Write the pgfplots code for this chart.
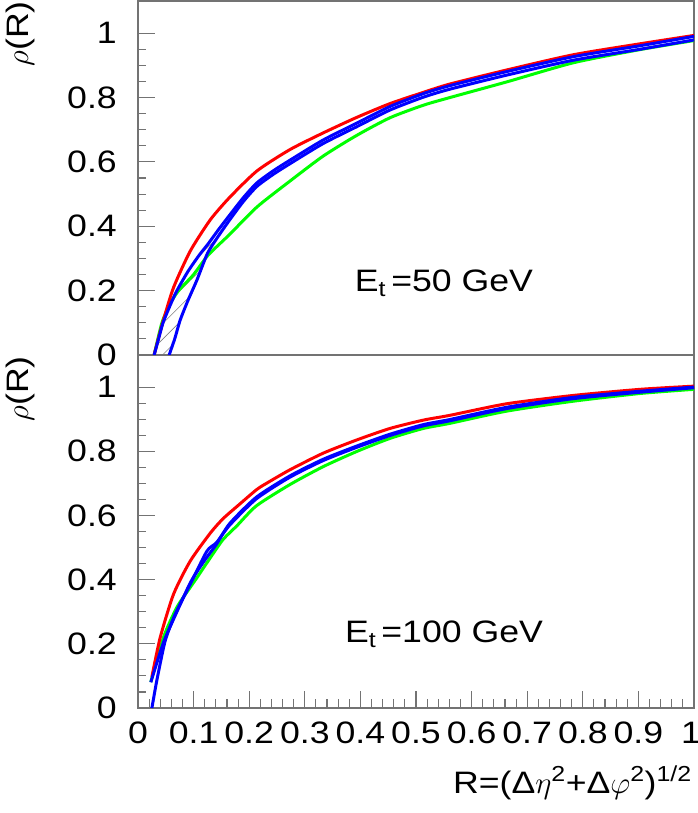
\RequirePackage{fix-cm}
\documentclass[border=0pt]{standalone}
\usepackage{fontspec}
\setmainfont{Liberation Sans}[FakeStretch=1.15]
\usepackage{pgfplots}
\pgfplotsset{compat=1.18}
\usepgfplotslibrary{fillbetween}
\usetikzlibrary{patterns.meta}

\begin{document}
\begin{tikzpicture}[font=\fontsize{31}{36}\selectfont]
\pgfplotsset{
  base/.style={
    scale only axis, width=556pt, xmin=0, xmax=1, ymin=0, ymax=1.1,
    axis line style={black!55, line width=1.4pt},
    tick style={black!55, line width=1.1pt},
    major tick length=17pt, minor tick length=8.5pt,
    tick align=inside,
    ytick={0,0.2,0.4,0.6,0.8,1}, yticklabels={0,0.2,0.4,0.6,0.8,1},
    minor y tick num=3,
    ytick pos=left,
    tick label style={font=\fontsize{31}{36}\selectfont},
    yticklabel style={inner sep=0pt, anchor=east},
    yticklabel shift=21pt,
    every axis plot/.append style={line width=3pt, line join=round, smooth, tension=0.4},
    /pgf/number format/assume math mode=true,
  }
}
% ---------- bottom panel: E_t = 100 GeV ----------
\begin{axis}[base, height=353pt, at={(0pt,0pt)}, anchor=south west,
  xtick={0,0.1,0.2,0.3,0.4,0.5,0.6,0.7,0.8,0.9,1},
  xticklabels={0,0.1,0.2,0.3,0.4,0.5,0.6,0.7,0.8,0.9,{\makebox[6pt][r]{1\hspace*{-4pt}}}},
  minor x tick num=4, xtick pos=bottom,
  xticklabel style={inner sep=0pt, anchor=north},
  xticklabel shift=14pt]
\addplot[green] coordinates {(0.023,0.081) (0.046,0.221) (0.07,0.314) (0.094,0.376) (0.106,0.406) (0.13,0.468) (0.153,0.525) (0.178,0.568) (0.213,0.630) (0.273,0.696) (0.333,0.752) (0.393,0.799) (0.453,0.840) (0.513,0.871) (0.561,0.887) (0.663,0.925) (0.783,0.956) (0.903,0.980) (1.0,0.993)};
\addplot[red] coordinates {(0.025,0.097) (0.04,0.22) (0.064,0.355) (0.094,0.458) (0.13,0.545) (0.153,0.59) (0.178,0.628) (0.213,0.68) (0.231,0.70) (0.273,0.742) (0.333,0.794) (0.393,0.835) (0.453,0.871) (0.513,0.897) (0.561,0.912) (0.663,0.948) (0.783,0.974) (0.903,0.993) (1.0,1.003)};
\addplot[blue] coordinates {(0.025,0) (0.034,0.087) (0.049,0.21) (0.067,0.293) (0.094,0.386) (0.124,0.489) (0.141,0.515) (0.165,0.57) (0.213,0.652) (0.273,0.719) (0.333,0.771) (0.393,0.812) (0.453,0.849) (0.513,0.879) (0.561,0.895) (0.663,0.933) (0.783,0.964) (0.903,0.984) (1.0,0.998)};
\addplot[blue] coordinates {(0.023,0.08) (0.046,0.205) (0.07,0.30) (0.094,0.39) (0.11,0.435) (0.124,0.47) (0.141,0.51) (0.165,0.575) (0.213,0.657) (0.273,0.723) (0.333,0.775) (0.393,0.816) (0.453,0.853) (0.513,0.883) (0.561,0.899) (0.663,0.937) (0.783,0.968) (0.903,0.987) (1.0,1.0)};
\end{axis}
% ---------- top panel: E_t = 50 GeV ----------
\begin{axis}[base, height=354pt, at={(0pt,353pt)}, anchor=south west,
  xtick=\empty, minor x tick num=0]
\addplot[green] coordinates {(0.029,0) (0.043,0.10) (0.058,0.16) (0.073,0.20) (0.10,0.25) (0.126,0.31) (0.165,0.375) (0.214,0.46) (0.273,0.54) (0.333,0.618) (0.393,0.682) (0.453,0.737) (0.513,0.776) (0.561,0.80) (0.664,0.849) (0.783,0.908) (0.903,0.949) (1.0,0.977)};
\addplot[red] coordinates {(0.029,0) (0.035,0.04) (0.046,0.11) (0.064,0.21) (0.094,0.323) (0.13,0.42) (0.165,0.49) (0.214,0.572) (0.273,0.638) (0.333,0.69) (0.393,0.738) (0.453,0.781) (0.513,0.816) (0.561,0.842) (0.664,0.886) (0.783,0.933) (0.903,0.967) (1.0,0.993)};
\addplot[blue, name path=A] coordinates {(0.029,0) (0.037,0.05) (0.045,0.10) (0.058,0.155) (0.07,0.20) (0.09,0.26) (0.11,0.31) (0.126,0.345) (0.145,0.39) (0.165,0.435) (0.19,0.49) (0.214,0.535) (0.243,0.572) (0.273,0.605) (0.333,0.668) (0.393,0.72) (0.453,0.772) (0.513,0.812) (0.561,0.837) (0.664,0.881) (0.783,0.927) (0.903,0.961) (1.0,0.99)};
\addplot[blue, name path=B] coordinates {(0.056,0) (0.066,0.05) (0.076,0.109) (0.09,0.17) (0.106,0.233) (0.125,0.316) (0.144,0.368) (0.165,0.42) (0.19,0.478) (0.214,0.524) (0.243,0.561) (0.273,0.594) (0.333,0.657) (0.393,0.709) (0.453,0.761) (0.513,0.801) (0.561,0.826) (0.664,0.87) (0.783,0.916) (0.903,0.95) (1.0,0.979)};
\addplot[draw=none, pattern={Lines[angle=45,distance=11pt,line width=0.6pt]}, pattern color=gray] fill between[of=A and B, soft clip={domain=0.02:0.19}];
\end{axis}
% ---------- titles ----------
\node[rotate=90, anchor=east, inner sep=0pt] at (-118pt,707pt) {$\rho$(R)};
\node[rotate=90, anchor=east, inner sep=0pt] at (-118pt,352pt) {$\rho$(R)};
\node[anchor=base, inner sep=0pt] at (306pt,416pt) {E\textsubscript{t}\,=50 GeV};
\node[anchor=base, inner sep=0pt] at (306pt,65pt) {E\textsubscript{t}\,=100 GeV};
\node[anchor=base east, inner sep=0pt] at (554pt,-85pt) {R=(Δ$\eta$\textsuperscript{2}+Δ$\varphi$\textsuperscript{2})\textsuperscript{1/2}};
\pgfresetboundingbox
\useasboundingbox (-138pt,-105pt) rectangle (559pt,708pt);
\end{tikzpicture}
\end{document}
